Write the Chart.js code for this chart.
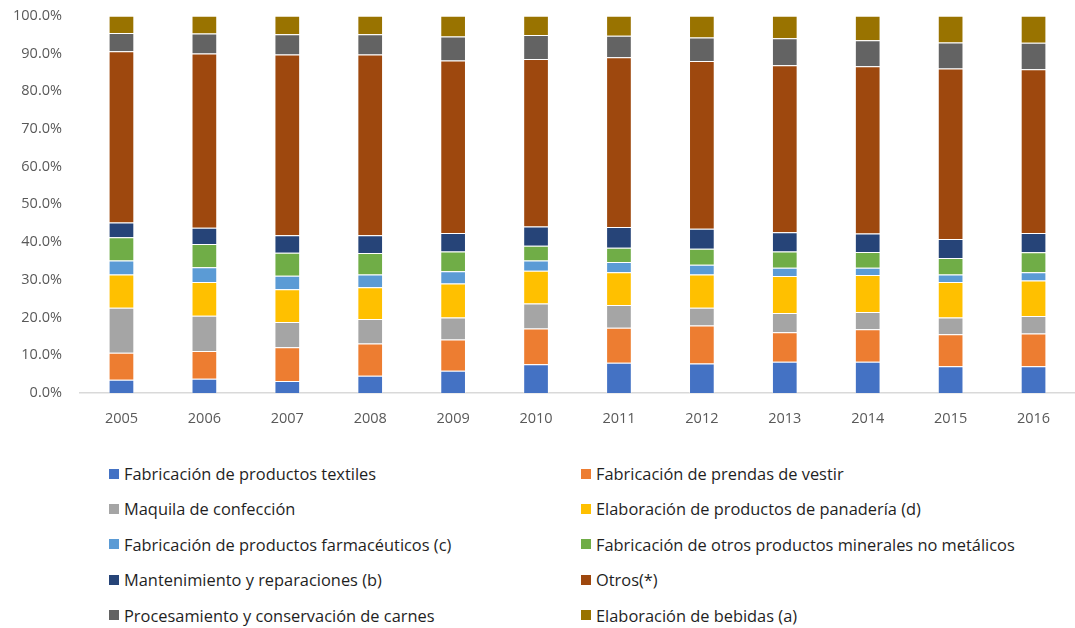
<!DOCTYPE html>
<html>
<head>
<meta charset="utf-8">
<script src="https://cdn.jsdelivr.net/npm/chart.js@4"></script>
<style>
  body { margin: 0; background: #fff; }
  #wrap { position: relative; width: 1075px; height: 628px; overflow: hidden; }
  #chartBox { position: absolute; left: 0; top: -11px; width: 1075px; height: 452px; }
  .legend-item {
    position: absolute; display: flex; align-items: center;
    font-family: "Open Sans", "Noto Sans", sans-serif; font-size: 16.4px; color: #1f1f1f;
    white-space: nowrap;
  }
  .legend-item span.sw { width: 10px; height: 10px; margin-right: 5px; display: inline-block; }
</style>
</head>
<body>
<div id="wrap">
  <div id="chartBox"><canvas id="resultChart"></canvas></div>
  <div id="legend"></div>
</div>
<script>
const years = ['2005', '2006', '2007', '2008', '2009', '2010', '2011', '2012', '2013', '2014', '2015', '2016'];
const yTicks = [0, 10, 20, 30, 40, 50, 60, 70, 80, 90, 100];

// shares by activity, percent of total per year
const textiles     = [3.5, 3.8, 3.2, 4.6, 5.9, 7.6, 8.0, 7.8, 8.3, 8.3, 7.1, 7.1];
const prendas      = [7.2, 7.3, 8.9, 8.5, 8.3, 9.5, 9.3, 10.1, 7.8, 8.6, 8.5, 8.7];
const maquila      = [11.9, 9.4, 6.7, 6.5, 5.8, 6.6, 6.0, 4.7, 5.1, 4.6, 4.4, 4.6];
const panaderia    = [8.8, 8.9, 8.7, 8.4, 9.0, 8.7, 8.7, 8.8, 9.8, 9.8, 9.4, 9.4];
const farmaceutica = [3.7, 3.9, 3.6, 3.4, 3.3, 2.7, 2.7, 2.6, 2.2, 1.9, 2.0, 2.2];
const minerales    = [6.2, 6.2, 6.1, 5.7, 5.2, 3.9, 3.8, 4.2, 4.3, 4.2, 4.4, 5.3];
const mantenimiento = [3.9, 4.3, 4.6, 4.7, 4.9, 5.1, 5.5, 5.3, 5.1, 4.9, 5.0, 5.1];
const otros        = [45.4, 46.2, 47.9, 47.9, 45.7, 44.4, 45.0, 44.5, 44.3, 44.3, 45.2, 43.4];
const carnes       = [4.8, 5.3, 5.4, 5.4, 6.4, 6.4, 5.7, 6.2, 7.1, 6.9, 6.9, 7.0];
const bebidas      = [4.6, 4.7, 4.9, 4.9, 5.5, 5.1, 5.3, 5.8, 6.0, 6.5, 7.1, 7.2];

const series = [
  { label: 'Fabricación de productos textiles', data: textiles, color: '#4472C4' },
  { label: 'Fabricación de prendas de vestir', data: prendas, color: '#ED7D31' },
  { label: 'Maquila de confección', data: maquila, color: '#A5A5A5' },
  { label: 'Elaboración de productos de panadería (d)', data: panaderia, color: '#FFC000' },
  { label: 'Fabricación de productos farmacéuticos (c)', data: farmaceutica, color: '#5B9BD5' },
  { label: 'Fabricación de otros productos minerales no metálicos', data: minerales, color: '#70AD47' },
  { label: 'Mantenimiento y reparaciones (b)', data: mantenimiento, color: '#264478' },
  { label: 'Otros(*)', data: otros, color: '#9E480E' },
  { label: 'Procesamiento y conservación de carnes', data: carnes, color: '#636363' },
  { label: 'Elaboración de bebidas (a)', data: bebidas, color: '#997300' }
];

const tickFont = { family: '"Open Sans", "Noto Sans", sans-serif', size: 14.5 };

new Chart(document.getElementById('resultChart'), {
  type: 'bar',
  data: {
    labels: years,
    datasets: series.map(s => ({
      label: s.label,
      data: s.data,
      backgroundColor: s.color,
      borderColor: 'rgba(255,255,255,0.35)',
      borderWidth: 1,
      categoryPercentage: 1,
      barPercentage: 0.31
    }))
  },
  options: {
    responsive: true,
    maintainAspectRatio: false,
    animation: false,
    layout: { padding: 0 },
    plugins: {
      legend: { display: false },
      tooltip: { enabled: false }
    },
    scales: {
      x: {
        stacked: true,
        grid: { display: false, drawTicks: false },
        border: { color: '#D9D9D9', width: 1.5 },
        ticks: { color: '#595959', font: tickFont, padding: 17 },
        afterFit: scale => { scale.height = 48; }
      },
      y: {
        stacked: true,
        min: 0,
        max: 100,
        afterBuildTicks: scale => { scale.ticks = yTicks.map(v => ({ value: v })); },
        grid: { display: false, drawTicks: false },
        border: { display: false },
        ticks: {
          color: '#595959',
          font: tickFont,
          padding: 18,
          callback: v => v.toFixed(1) + '%'
        },
        afterFit: scale => { scale.width = 80; }
      }
    }
  }
});

// two-column legend under the plot
const legend = document.getElementById('legend');
series.forEach((s, i) => {
  const item = document.createElement('div');
  item.className = 'legend-item';
  item.style.left = (i % 2 === 0 ? 109 : 581) + 'px';
  item.style.top = (462 + Math.floor(i / 2) * 35.4) + 'px';
  const sw = document.createElement('span');
  sw.className = 'sw';
  sw.style.background = s.color;
  const txt = document.createElement('span');
  txt.innerText = s.label;
  item.appendChild(sw);
  item.appendChild(txt);
  legend.appendChild(item);
});
</script>
</body>
</html>
